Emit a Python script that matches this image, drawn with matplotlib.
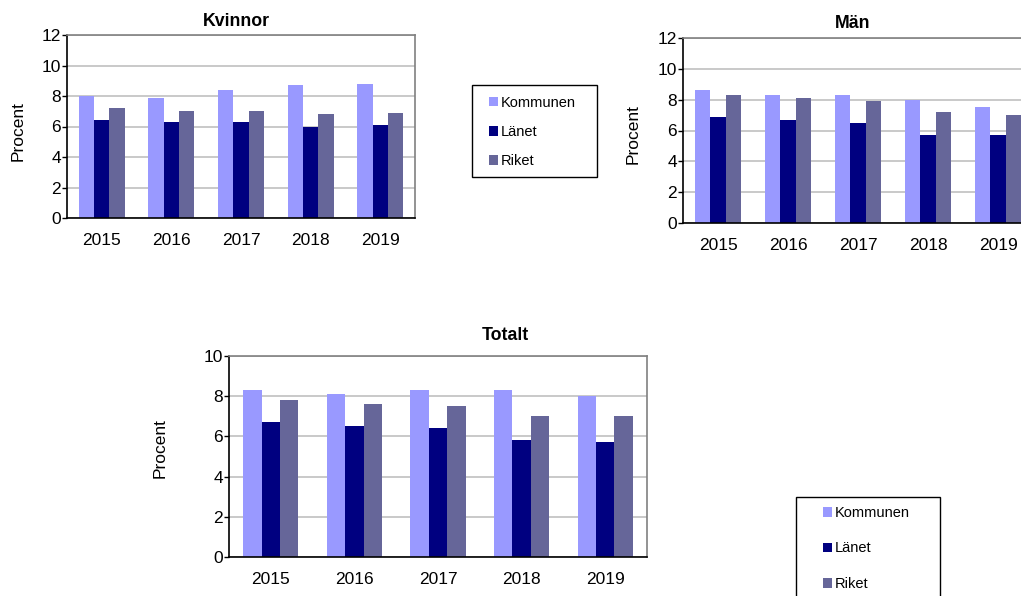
import matplotlib
matplotlib.use("Agg")
import matplotlib.pyplot as plt
from matplotlib.patches import Rectangle
import numpy as np

plt.rcParams['font.family'] = ['Liberation Sans', 'DejaVu Sans']

years = ["2015", "2016", "2017", "2018", "2019"]
series = ["Kommunen", "Länet", "Riket"]
colors = ["#9999FF", "#000080", "#666699"]

kvinnor_kommunen = [8.0, 7.9, 8.4, 8.7, 8.8]
kvinnor_lanet = [6.4, 6.3, 6.3, 6.0, 6.1]
kvinnor_riket = [7.2, 7.0, 7.0, 6.8, 6.9]

man_kommunen = [8.6, 8.3, 8.3, 8.0, 7.5]
man_lanet = [6.9, 6.7, 6.5, 5.7, 5.7]
man_riket = [8.3, 8.1, 7.9, 7.2, 7.0]

totalt_kommunen = [8.3, 8.1, 8.3, 8.3, 8.0]
totalt_lanet = [6.7, 6.5, 6.4, 5.8, 5.7]
totalt_riket = [7.8, 7.6, 7.5, 7.0, 7.0]

W, H = 1021, 596
fig = plt.figure(figsize=(W / 100, H / 100), dpi=100)
fig.patch.set_facecolor("white")


def rect(l, t, r, b):
    return [l / W, 1 - b / H, (r - l) / W, (b - t) / H]


def panel(box, title, title_xy, ylab_xy, data, ymax):
    ax = fig.add_axes(rect(*box))
    x = np.arange(len(years))
    bw = 0.22
    bars = []
    for j, (vals, c) in enumerate(zip(data, colors)):
        b = ax.bar(x + (j - 1) * bw, vals, width=bw, color=c, edgecolor="none",
                   label=series[j], zorder=2)
        bars.append(b)
    ax.set_xlim(-0.5, len(years) - 0.5)
    ax.set_ylim(0, ymax)
    ax.set_yticks(np.arange(0, ymax + 1, 2))
    ax.set_xticks(x)
    ax.set_xticklabels(years)
    ax.yaxis.grid(True, color="#C0C0C0", lw=1.2, zorder=0)
    ax.set_axisbelow(True)
    ax.tick_params(axis="x", length=0, pad=10.5, labelsize=12.5)
    ax.tick_params(axis="y", length=3.5, width=1, pad=1, labelsize=12.5, direction="out")
    for s in ["left", "bottom"]:
        ax.spines[s].set_color("#000000")
        ax.spines[s].set_linewidth(1.2)
    for s in ["top", "right"]:
        ax.spines[s].set_color("#808080")
        ax.spines[s].set_linewidth(1.2)
    fig.text(title_xy[0] / W, 1 - title_xy[1] / H, title, ha="center", va="center",
             fontsize=12.8, fontweight="bold")
    fig.text(ylab_xy[0] / W, 1 - ylab_xy[1] / H, "Procent", ha="center", va="center",
             rotation=90, fontsize=12.5)
    return ax, bars


ax1, bars1 = panel((67, 35, 415, 218), "Kvinnor", (236, 22), (18, 131),
                   [kvinnor_kommunen, kvinnor_lanet, kvinnor_riket], 12)
ax2, bars2 = panel((683, 38, 1033, 223), "Män", (853, 23), (633, 134),
                   [man_kommunen, man_lanet, man_riket], 12)
ax3, bars3 = panel((229, 356, 647, 557), "Totalt", (505, 335), (160, 448),
                   [totalt_kommunen, totalt_lanet, totalt_riket], 10)

# legend boxes
fig.patches.append(Rectangle((472 / W, 1 - 177 / H), (597 - 472) / W, (177 - 85) / H,
                             transform=fig.transFigure, fill=False,
                             edgecolor="#000000", lw=1.0))
fig.patches.append(Rectangle((796 / W, 1 - 620 / H), (940 - 796) / W, (620 - 497) / H,
                             transform=fig.transFigure, fill=False,
                             edgecolor="#000000", lw=1.0))

leg_kw = dict(frameon=False, borderpad=0, borderaxespad=0, handlelength=0.62,
              handleheight=0.62, handletextpad=0.2, fontsize=10.5, loc="center left")
fig.legend(handles=bars1, labels=series, bbox_to_anchor=(489 / W, 1 - 132 / H),
           labelspacing=1.05, **leg_kw)
fig.legend(handles=bars3, labels=series, bbox_to_anchor=(823 / W, 1 - 548.5 / H),
           labelspacing=1.47, **leg_kw)

fig.savefig("out.png", dpi=100, facecolor="white")
